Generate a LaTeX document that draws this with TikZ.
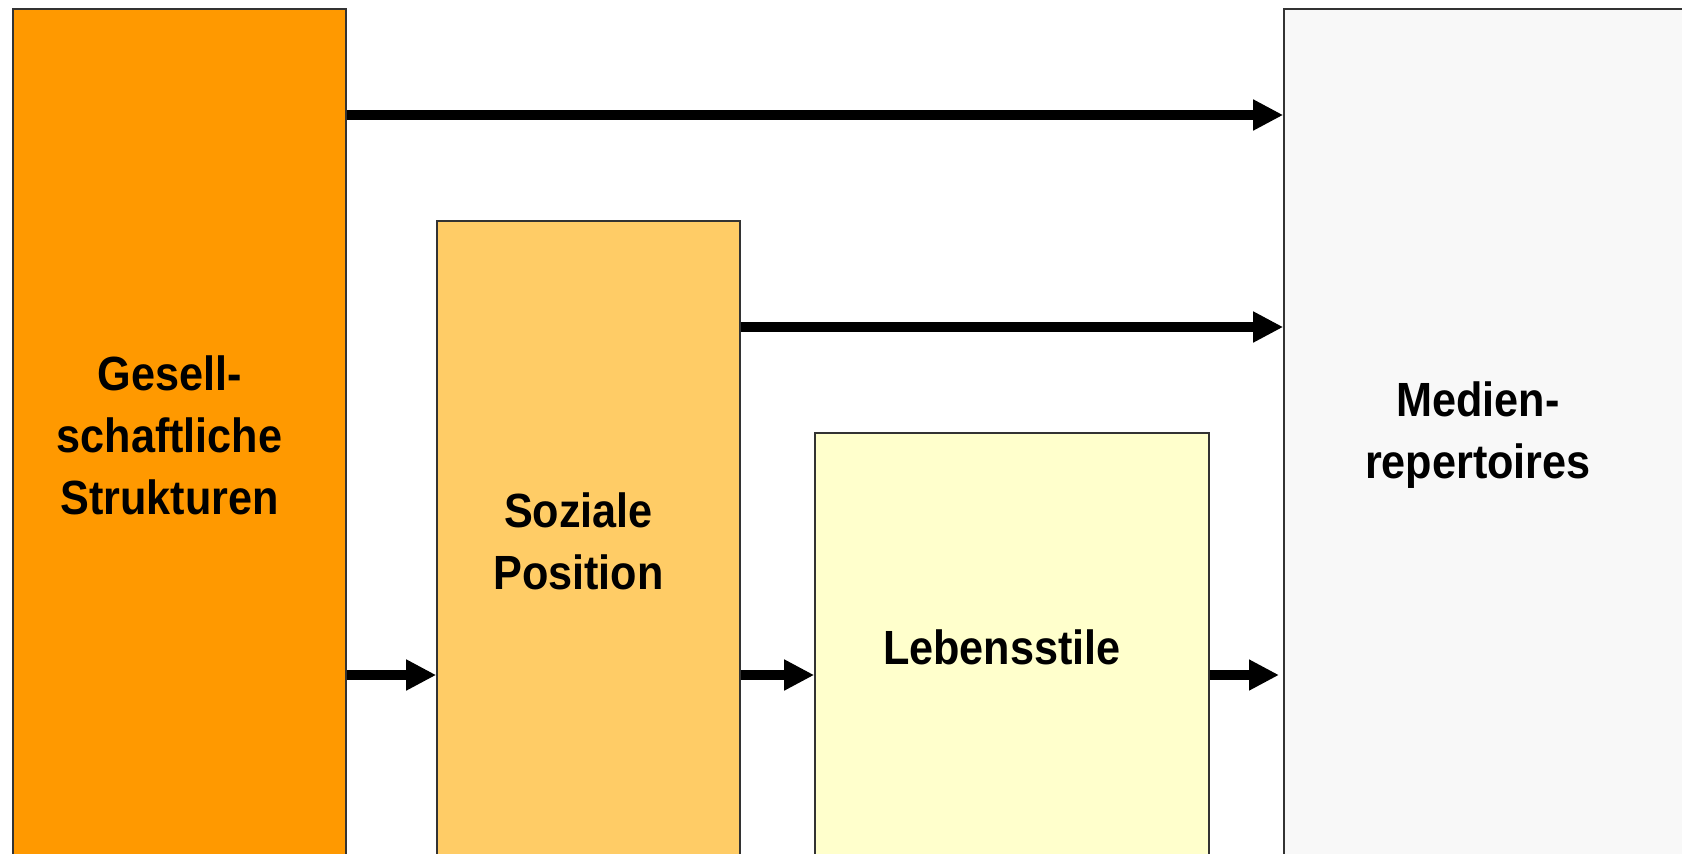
\documentclass[tikz,border=0pt]{standalone}
\usepackage{fontspec}
\newfontfamily\boxfont{Liberation Sans}[FakeStretch=0.9]
\usetikzlibrary{arrows.meta}

\tikzset{
  box/.style={draw=black!80, line width=0.8pt, inner sep=0pt},
  lbl/.style={font=\boxfont\bfseries\fontsize{24}{31}\selectfont, align=center},
  arr/.style={line width=4.9pt, -{Triangle[length=15pt,width=14.5pt]}}
}

\begin{document}
\begin{tikzpicture}[x=0.5pt, y=-0.5pt]
\useasboundingbox (0,0) rectangle (1682,853);
\clip (0,0) rectangle (1682,853);

\node[box, fill={rgb,255:red,255;green,153;blue,0}, minimum width=166.5pt, minimum height=426.5pt] (ges) at (179.5,435.5) {};
\node[box, fill={rgb,255:red,255;green,204;blue,102}, minimum width=151.5pt, minimum height=320.5pt] (soz) at (588.5,541.5) {};
\node[box, fill={rgb,255:red,255;green,255;blue,204}, minimum width=197pt, minimum height=214.5pt] (leb) at (1012,647.5) {};
\node[box, fill={rgb,255:red,248;green,248;blue,248}, minimum width=204pt, minimum height=426.5pt] (med) at (1488,435.5) {};

\node[lbl] (gestext) at ([xshift=-5pt]ges.center) {Gesell-\\schaftliche\\Strukturen};
\node[lbl] (soztext) at ([xshift=-5pt]soz.center) {Soziale\\Position};
\node[lbl] (lebtext) at ([xshift=-5pt]leb.center) {Lebensstile};
\node[lbl] (medtext) at ([xshift=-5pt]med.center) {Medien-\\repertoires};

\coordinate (lebend) at (1279,675);

\draw[arr] (ges.east |- 0,115) -- (med.west |- 0,115);
\draw[arr] (soz.east |- 0,327) -- (med.west |- 0,327);
\draw[arr] (ges.east |- 0,675) -- (soz.west |- 0,675);
\draw[arr] (soz.east |- 0,675) -- (leb.west |- 0,675);
\draw[arr] (leb.east |- 0,675) -- (lebend);
\end{tikzpicture}
\end{document}
